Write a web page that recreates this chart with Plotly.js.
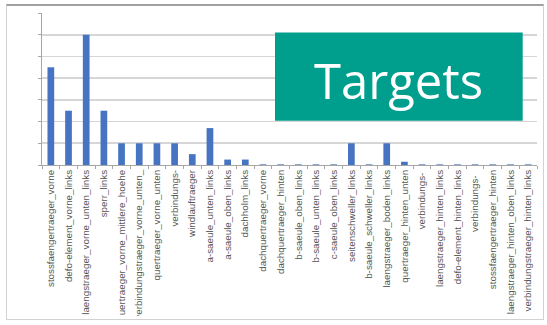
<!DOCTYPE html>
<html>
<head>
<meta charset="utf-8">
<script src="https://cdn.plot.ly/plotly-3.0.1.min.js"></script>
<style>
  html, body { margin: 0; padding: 0; background: #ffffff; }
  #wrap { position: relative; width: 547px; height: 325px; overflow: hidden; background: #fff; }
  #frame { position: absolute; left: 6px; top: 4px; width: 538px; height: 316px;
           border: 1px solid #d2d2d2; border-top: 2px solid #a0a0a0; box-sizing: border-box; pointer-events: none; z-index: 2; }
  #chart { position: absolute; left: 0; top: 0; width: 547px; height: 316px; overflow: hidden; }
</style>
</head>
<body>
<div id="wrap">
  <div id="chart"></div>
  <div id="frame"></div>
</div>
<script>
const categories = [
  "stossfaengertraeger_vorne",
  "defo-element_vorne_links",
  "laengstraeger_vorne_unten_links",
  "sperr_links",
  "quertraeger_vorne_mittlere_hoehe",
  "verbindungstraeger_vorne_unten_",
  "quertraeger_vorne_unten",
  "verbindungs-",
  "windlauftraeger",
  "a-saeule_unten_links",
  "a-saeule_oben_links",
  "dachholm_links",
  "dachquertraeger_vorne",
  "dachquertraeger_hinten",
  "b-saeule_oben_links",
  "b-saeule_unten_links",
  "c-saeule_oben_links",
  "seitenschweller_links",
  "b-saeule_schweller_links",
  "laengstraeger_boden_links",
  "quertraeger_hinten_unten",
  "verbindungs- ",
  "laengstraeger_hinten_links",
  "defo-element_hinten_links",
  "verbindungs-  ",
  "stossfaengertraeger_hinten",
  "laengstraeger_hinten_oben_links",
  "verbindungstraeger_hinten_links"
];
const values = [4.5, 2.5, 6, 2.5, 1, 1, 1, 1, 0.5, 1.7, 0.25, 0.25, 0.03, 0.03, 0.03, 0.03, 0.03, 1, 0.03, 1, 0.15, 0.03, 0.03, 0.03, 0.03, 0.03, 0.03, 0.03];
const titleText = "Targets";

const trace = {
  type: "bar",
  x: categories,
  y: values,
  marker: { color: "#4674C2" },
  hoverinfo: "x+y"
};

const layout = {
  width: 547,
  height: 316,
  margin: { l: 42, r: 10, t: 13, b: 151 },
  paper_bgcolor: "rgba(0,0,0,0)",
  plot_bgcolor: "#ffffff",
  showlegend: false,
  bargap: 0.62,
  xaxis: {
    type: "category",
    tickangle: -90,
    tickfont: { family: "Liberation Sans, Arial, sans-serif", size: 9.8, color: "#555555" },
    showline: true,
    linecolor: "#a6a6a6",
    linewidth: 1,
    ticks: "outside",
    tickson: "boundaries",
    ticklen: 3,
    tickcolor: "#a6a6a6",
    showgrid: false,
    automargin: false
  },
  yaxis: {
    range: [0, 7],
    dtick: 1,
    showticklabels: false,
    showline: true,
    linecolor: "#a6a6a6",
    linewidth: 1,
    ticks: "outside",
    ticklen: 3,
    tickcolor: "#a6a6a6",
    showgrid: true,
    gridcolor: "#d6d6d6",
    gridwidth: 1.6,
    zeroline: false
  },
  shapes: [{
    type: "rect",
    xref: "paper", yref: "paper",
    x0: 0.4707, x1: 0.9711, y0: 0.291, y1: 0.871,
    fillcolor: "#009E8C",
    line: { width: 0 },
    layer: "above"
  }],
  annotations: [{
    xref: "paper", yref: "paper",
    x: 0.7192, y: 0.56,
    xanchor: "center", yanchor: "middle",
    text: titleText,
    showarrow: false,
    font: { family: "Open Sans, sans-serif", size: 49, color: "#ffffff" }
  }]
};

Plotly.newPlot("chart", [trace], layout, { displayModeBar: false, staticPlot: true });
</script>
</body>
</html>
